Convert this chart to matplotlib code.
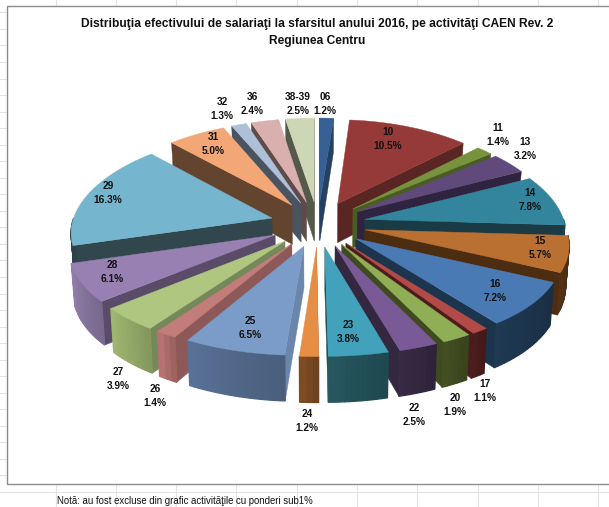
import numpy as np
import matplotlib
matplotlib.use("Agg")
import matplotlib.pyplot as plt
from matplotlib.patches import Polygon, Rectangle

plt.rcParams["font.family"] = ["Liberation Sans", "DejaVu Sans"]

TITLE = "Distribuţia efectivului de salariaţi la sfarsitul anului 2016, pe activităţi CAEN Rev. 2\nRegiunea Centru"
NOTE = "Notă: au fost excluse din grafic activităţile cu ponderi sub1%"

codes = ["06", "10", "11", "13", "14", "15", "16", "17", "20", "22", "23",
         "24", "25", "26", "27", "28", "29", "31", "32", "36", "38-39"]
shares = [1.2, 10.5, 1.4, 3.2, 7.8, 5.7, 7.2, 1.1, 1.9, 2.5, 3.8,
          1.2, 6.5, 1.4, 3.9, 6.1, 16.3, 5.0, 1.3, 2.4, 2.5]

top_colors = ["#376194", "#953a38", "#77933d", "#5f4a7b", "#32859c", "#ba7030", "#4a7ab3",
              "#b24a48", "#8fae55", "#7a5a96", "#42a2bb", "#e68e44", "#7b9bc8",
              "#c27c7a", "#aec67f", "#9980b2", "#75b5cd", "#f3a676", "#aebfd8", "#d9b0ae", "#cdd7b6"]
wall_colors = ["#254061", "#5a2623", "#4a5c24", "#2f2340", "#1a3a44", "#4d2d12", "#1c344c",
               "#4a1c1c", "#3f4a20", "#33283f", "#235058", "#7a4a22", "#52688a",
               "#b06e6c", "#92a868", "#85749c", "#32474d", "#63442e", "#4a5360", "#5f4a4a", "#55594a"]
edge_colors = ["#254061", "#5a2623", "#4a5c24", "#2f2340", "#1a3a44", "#4d2d12", "#1c344c",
               "#4a1c1c", "#3f4a20", "#33283f", "#235058", "#7a4a22", "#6a86ac",
               "#8d5958", "#74885a", "#5a4c69", "#32474d", "#63442e", "#4a5360", "#5f4a4a", "#55594a"]

# label centres in picture pixels, same order as codes
label_x = [325, 388, 498, 525, 530, 540, 495, 485, 455, 414, 348,
           307, 250, 155, 118, 112, 108, 213, 222, 252, 298]
label_y = [104.5, 139, 135, 149, 200, 248, 291, 391, 405, 415, 332,
           421, 328, 396, 379, 272, 193, 144.5, 109, 104, 104.5]

CX, CY = 318, 224
RX, RY = 200, 95
KX, KY = 0.13, 0.09
EXPLODE = 0.24
THICK = 40


def project(u, v):
    return CX + RX * u / (1 + KX * v), CY - RY * v / (1 + KY * v)


def lower(x, y, v):
    # bottom of a wall under a top point
    return CX + (x - CX) * 0.986, y + THICK * (1 - 0.12 * v)


def shade(color, f):
    rgb = np.array(matplotlib.colors.to_rgb(color)) * f
    return tuple(np.clip(rgb, 0, 1))


def draw_quad(ax, p0, p1, p2, p3, color, lw=0.3):
    ax.add_patch(Polygon([p0, p1, p2, p3], closed=True, facecolor=color,
                         edgecolor=color, linewidth=lw))


fig = plt.figure(figsize=(6.09, 5.07), dpi=100)
ax = fig.add_axes([0, 0, 1, 1])
ax.set_xlim(0, 609)
ax.set_ylim(507, 0)
ax.axis("off")

# spreadsheet grid behind the chart
for gx in 55.5 + 60.3 * np.arange(10):
    ax.plot([gx, gx], [0, 507], color="#e4e4e4", lw=0.8, zorder=0)
for gy in 492 - 16.54 * np.arange(30):
    ax.plot([0, 609], [gy, gy], color="#e4e4e4", lw=0.8, zorder=0)

ax.add_patch(Rectangle((7, 6), 640, 478, facecolor="white", edgecolor="#8c8c8c", lw=1.0, zorder=0.5))

total = sum(shares)
edges = np.cumsum([0] + shares) / total * 2 * np.pi
mids = (edges[:-1] + edges[1:]) / 2

# back slices first
order = np.argsort(-np.cos(mids))
for i in order:
    a0, a1 = edges[i], edges[i + 1]
    du, dv = EXPLODE * np.sin(mids[i]), EXPLODE * np.cos(mids[i])
    arc = np.linspace(a0, a1, max(4, int((a1 - a0) / 0.02)))
    au = du + np.sin(arc)
    av = dv + np.cos(arc)
    tip = project(du, dv)
    tip_low = lower(*tip, dv)
    rim = [project(u, v) for u, v in zip(au, av)]
    rim_low = [lower(x, y, v) for (x, y), v in zip(rim, av)]

    # radial walls
    for a, p, q, sign in [(a0, rim[0], rim_low[0], -1), (a1, rim[-1], rim_low[-1], 1)]:
        nv = np.cos(a + sign * np.pi / 2)
        if nv < 0.02:
            draw_quad(ax, tip, p, q, tip_low, edge_colors[i])

    # outer wall, strip by strip, darker towards the right of the picture
    n = len(arc) - 1
    for j in range(n):
        am = (arc[j] + arc[j + 1]) / 2
        if np.cos(am) < 0:
            f = 0.9 + 0.2 * j / n
            draw_quad(ax, rim[j], rim[j + 1], rim_low[j + 1], rim_low[j],
                      shade(wall_colors[i], f), lw=0.9)

    ax.add_patch(Polygon([tip] + rim, closed=True, facecolor=top_colors[i],
                         edgecolor=top_colors[i], linewidth=0.3))

for code, share, lx, ly in zip(codes, shares, label_x, label_y):
    ax.text(lx, ly, f"{code}\n{share:.1f}%", ha="center", va="center", fontsize=7.3,
            fontweight="bold", color="#111111", linespacing=1.5, zorder=5)

ax.text(317, 32.5, TITLE, ha="center", va="center", fontsize=8.65, fontweight="bold",
        color="#111111", linespacing=1.45, zorder=5)
ax.text(57, 501, NOTE, ha="left", va="center", fontsize=6.9, color="#111111", zorder=5)

fig.savefig("out.png", dpi=100)
